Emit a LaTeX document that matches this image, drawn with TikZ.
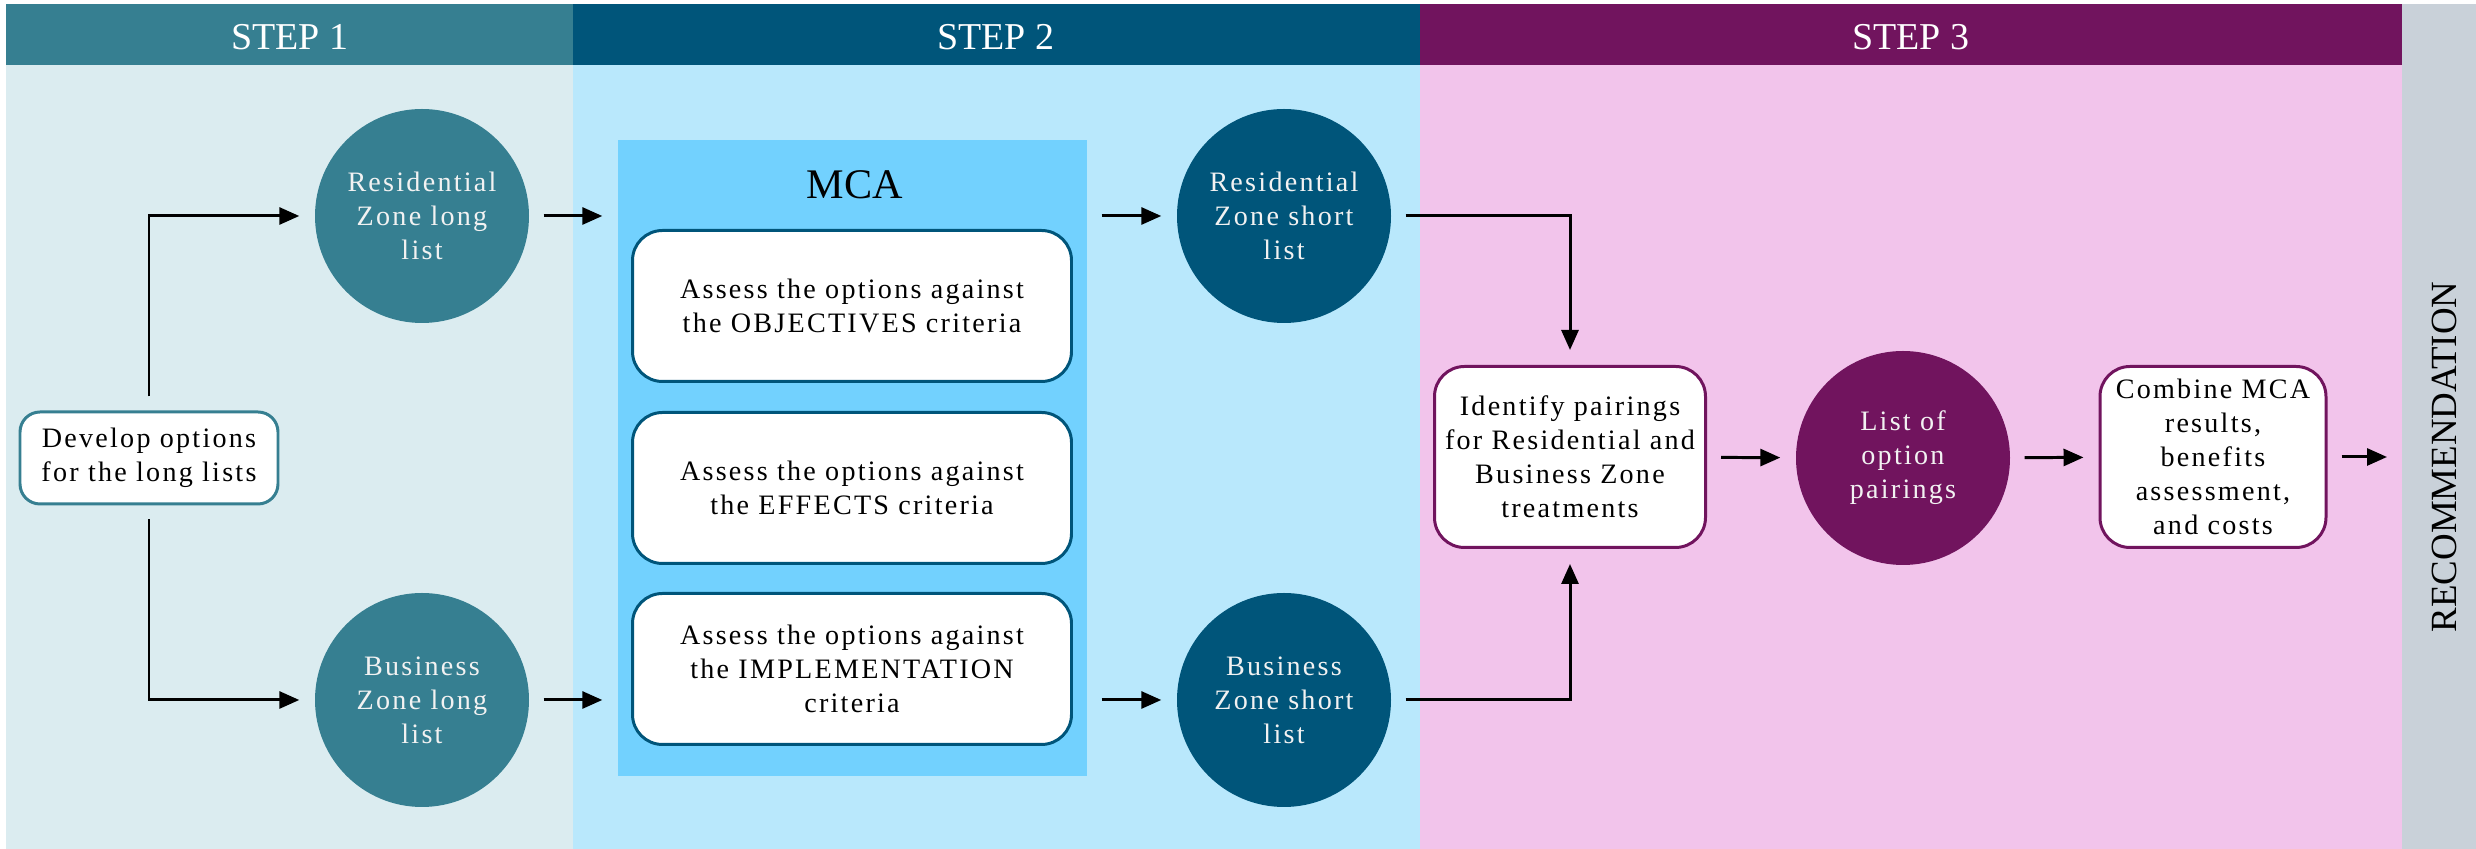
\documentclass[tikz,border=0pt]{standalone}
\usepackage{fontspec}
\setmainfont{Liberation Serif}
\newfontfamily\spacedfont[LetterSpace=8]{Liberation Serif}
\usetikzlibrary{arrows.meta}
\usetikzlibrary{calc}

\definecolor{stepone}{HTML}{367F91}
\definecolor{steponebg}{HTML}{DBECF0}
\definecolor{steptwo}{HTML}{00557A}
\definecolor{steptwobg}{HTML}{B9E8FC}
\definecolor{mcabg}{HTML}{72D1FE}
\definecolor{stepthree}{HTML}{71145E}
\definecolor{stepthreebg}{HTML}{F2C4EB}
\definecolor{recbg}{HTML}{C9D1D9}

\begin{document}
\begin{tikzpicture}[x=0.1mm,y=-0.1mm,
        head/.style={text=white,font=\fontsize{10.8}{12}\selectfont},
        txt/.style={align=center,font=\spacedfont\fontsize{8}{9.7}\selectfont},
        blob/.style={txt,circle,minimum size=21.4mm,inner sep=0pt,text=white!95!black},
        card/.style={txt,rounded corners=3mm,fill=white,line width=0.85pt,inner sep=0pt},
        flow/.style={-{Triangle[length=2mm,width=1.7mm]},line width=0.85pt,shorten <=1.4mm,shorten >=1.5mm}]
                \useasboundingbox (0,0) rectangle (2476,849);
                % columns
                \fill[steponebg] (6,65) rectangle (573,849);
                \fill[steptwobg] (573,65) rectangle (1420,849);
                \fill[stepthreebg] (1420,65) rectangle (2402,849);
                \fill[recbg] (2402,4) rectangle (2476,849);
                \fill[stepone] (6,4) rectangle (573,65);
                \fill[steptwo] (573,4) rectangle (1420,65);
                \fill[stepthree] (1420,4) rectangle (2402,65);
                \node[head] (S1) at (290,37) {STEP 1};
                \node[head] (S2) at (996,37) {STEP 2};
                \node[head] (S3) at (1911,37) {STEP 3};
                \node[rotate=90,font=\fontsize{10.5}{12}\selectfont] (Rec) at (2444,457) {RECOMMENDATION};
                % step 1
                \node[card,draw=stepone,rounded corners=2mm,minimum width=25.8mm,minimum height=9.2mm] (Dev) at (149,458) {Develop options\\for the long lists};
                \node[blob,fill=stepone] (ResLong) at (422,216) {Residential\\Zone long\\list};
                \node[blob,fill=stepone] (BusLong) at (422,700) {Business\\Zone long\\list};
                % step 2
                \node[fill=mcabg,minimum width=46.9mm,minimum height=63.6mm,inner sep=0pt] (MCA) at (852.5,458) {};
                \node[font=\fontsize{12}{13}\selectfont] (MCAt) at (855,185) {MCA};
                \node[card,draw=steptwo,minimum width=43.9mm,minimum height=15.1mm] (Obj) at (852,306) {Assess the options against\\the OBJECTIVES criteria};
                \node[card,draw=steptwo,minimum width=43.9mm,minimum height=15.1mm] (Eff) at (852,488) {Assess the options against\\the EFFECTS criteria};
                \node[card,draw=steptwo,minimum width=43.9mm,minimum height=15.1mm] (Imp) at (852,669) {Assess the options against\\the IMPLEMENTATION\\criteria};
                \node[blob,fill=steptwo] (ResShort) at (1284,216) {Residential\\Zone short\\list};
                \node[blob,fill=steptwo] (BusShort) at (1284,700) {Business\\Zone short\\list};
                % step 3
                \node[card,draw=stepthree,minimum width=27.1mm,minimum height=18.1mm] (Pair) at (1570,457) {Identify pairings\\for Residential and\\Business Zone\\treatments};
                \node[blob,fill=stepthree] (List) at (1903,458) {List of\\option\\pairings};
                \node[card,draw=stepthree,minimum width=22.6mm,minimum height=18.1mm] (Comb) at (2213,457) {Combine MCA\\results,\\benefits\\assessment,\\and costs};
                \coordinate (Out) at (2402,457);
                % arrows
                \draw[flow] (Dev.north) |- (ResLong);
                \draw[flow] (Dev.south) |- (BusLong);
                \draw[flow] (ResLong) -- (ResLong -| MCA.west);
                \draw[flow] (BusLong) -- (BusLong -| MCA.west);
                \draw[flow] (ResShort -| MCA.east) -- (ResShort);
                \draw[flow] (BusShort -| MCA.east) -- (BusShort);
                \draw[flow] (ResShort) -| (Pair);
                \draw[flow] (BusShort) -| (Pair);
                \draw[flow] (Pair) -- (List);
                \draw[flow] (List) -- (Comb);
                \draw[flow] (Comb) -- (Out);
            \end{tikzpicture}
\end{document}
